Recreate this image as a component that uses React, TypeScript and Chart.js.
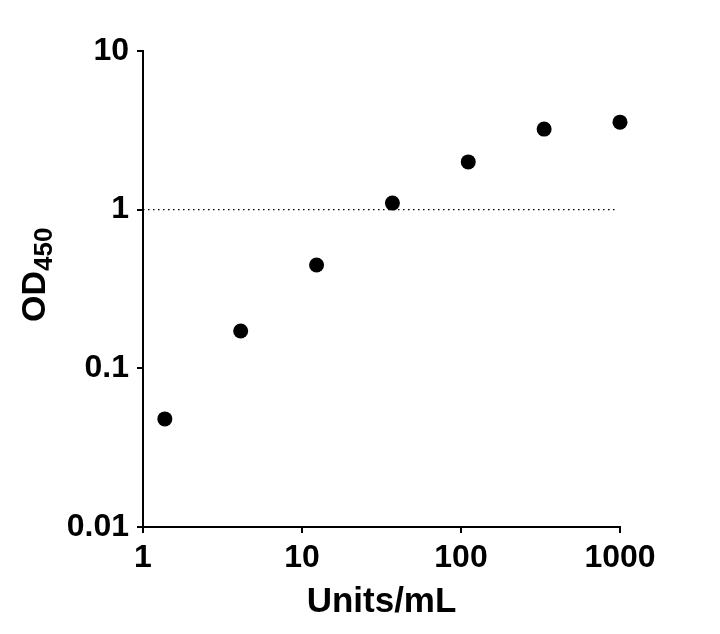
import { useEffect, useRef } from "react"
import { Chart, registerables } from "chart.js"

Chart.register(...registerables)

// Serial 3-fold dilution, units/mL
const concentrations = [1.372, 4.115, 12.35, 37.04, 111.1, 333.3, 1000]
// Measured OD450
const odValues = [0.048, 0.172, 0.448, 1.1, 2.0, 3.22, 3.56]

// Dotted reference line at OD = 1
const refLineY = 1
const refLineX = [1, 930]

const xTicks = [1, 10, 100, 1000]
const yTicks = [0.01, 0.1, 1, 10]

const FONT = "'Liberation Sans', Arial, sans-serif"

const titlePlugin = {
  id: "axisTitles",
  afterDraw(chart: Chart) {
    const { ctx, chartArea } = chart
    ctx.save()
    ctx.fillStyle = "#000"

    // x title
    ctx.font = `bold 35px ${FONT}`
    ctx.textAlign = "center"
    ctx.textBaseline = "alphabetic"
    ctx.fillText("Units/mL", (chartArea.left + chartArea.right) / 2, 612)

    // y title with subscript
    ctx.translate(45, 322)
    ctx.rotate(-Math.PI / 2)
    ctx.textAlign = "left"
    ctx.font = `bold 34px ${FONT}`
    ctx.fillText("OD", 0, 0)
    const w = ctx.measureText("OD").width
    ctx.font = `bold 26px ${FONT}`
    ctx.fillText("450", w, 7)
    ctx.restore()
  },
}

export default function App() {
  const chartRef = useRef<HTMLCanvasElement>(null)
  const chartInstance = useRef<Chart | null>(null)

  useEffect(() => {
    if (!chartRef.current) return
    if (chartInstance.current) chartInstance.current.destroy()

    const ctx = chartRef.current.getContext("2d")
    if (!ctx) return

    const axisCommon = {
      type: "logarithmic" as const,
      grid: {
        display: true,
        drawOnChartArea: false,
        drawTicks: true,
        tickLength: 6,
        color: "#000",
        lineWidth: 2,
      },
      border: { display: true, color: "#000", width: 2 },
    }

    chartInstance.current = new Chart(ctx, {
      type: "scatter",
      data: {
        datasets: [
          {
            label: "OD450",
            data: concentrations.map((x, i) => ({ x, y: odValues[i] })),
            backgroundColor: "#000",
            borderColor: "#000",
            pointRadius: 7.5,
            pointHoverRadius: 7.5,
            borderWidth: 0,
            clip: false as any,
            order: 1,
          },
          {
            label: "ref",
            data: refLineX.map((x) => ({ x, y: refLineY })),
            showLine: true,
            borderColor: "#000",
            borderWidth: 1.3,
            borderDash: [1.5, 3.5],
            pointRadius: 0,
            order: 2,
          },
        ],
      },
      options: {
        responsive: false,
        animation: false,
        layout: { padding: { left: 0, top: 51, right: 100, bottom: 0 } },
        plugins: { legend: { display: false }, tooltip: { enabled: false } },
        scales: {
          x: {
            ...axisCommon,
            position: "bottom",
            min: 1,
            max: 1000,
            afterBuildTicks: (scale: any) => {
              scale.ticks = xTicks.map((value) => ({ value }))
            },
            afterFit: (scale: any) => {
              scale.height = 107
            },
            ticks: {
              color: "#000",
              padding: 6,
              maxRotation: 0,
              font: { family: FONT, size: 32, weight: "bold" },
              callback: (v: any) => String(v),
            },
          },
          y: {
            ...axisCommon,
            position: "left",
            min: 0.01,
            max: 10,
            afterBuildTicks: (scale: any) => {
              scale.ticks = yTicks.map((value) => ({ value }))
            },
            afterFit: (scale: any) => {
              scale.width = 143
            },
            ticks: {
              color: "#000",
              padding: 8,
              font: { family: FONT, size: 32, weight: "bold" },
              callback: (v: any) => String(v),
            },
          },
        },
      },
      plugins: [titlePlugin],
    })

    return () => {
      if (chartInstance.current) {
        chartInstance.current.destroy()
        chartInstance.current = null
      }
    }
  }, [])

  return (
    <div style={{ position: "absolute", left: 0, top: 0, width: 720, height: 634, background: "#fff" }}>
      <canvas ref={chartRef} width={720} height={634} />
    </div>
  )
}
